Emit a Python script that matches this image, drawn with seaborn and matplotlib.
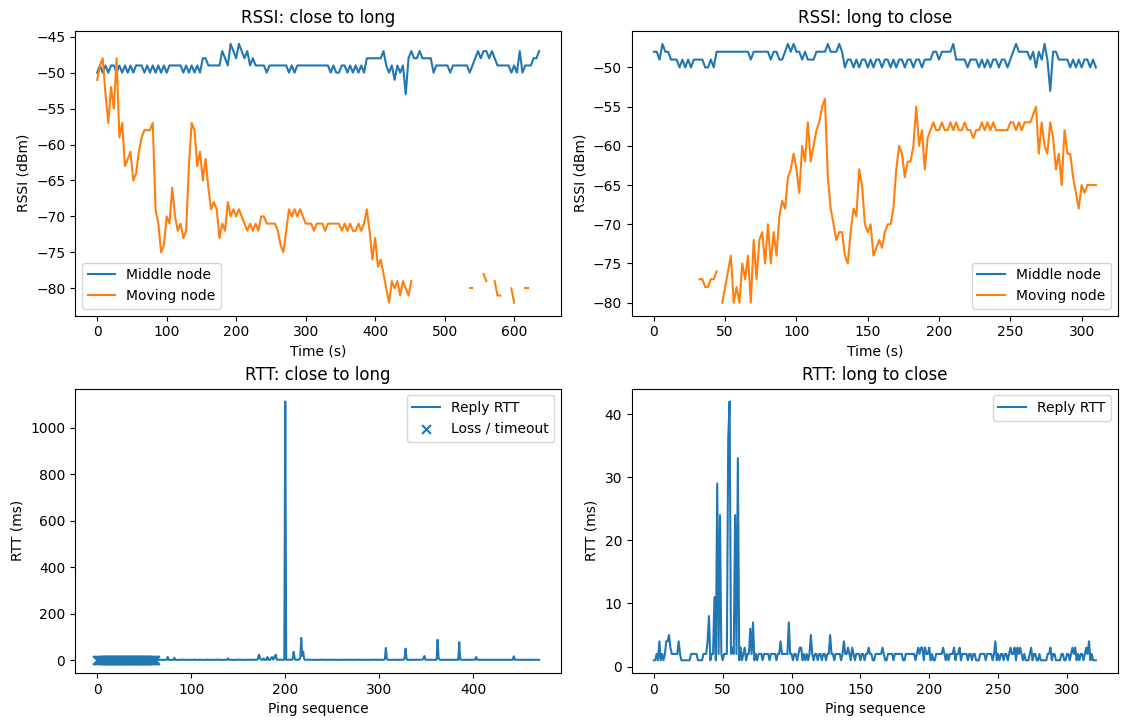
import numpy as np
import pandas as pd
import matplotlib
matplotlib.use("Agg")
import matplotlib.pyplot as plt
import seaborn as sns

nan = np.nan

# ---------------- RSSI: close to long (sampled every 4 s) ----------------
tl_time = np.arange(0, 640, 4)
tl_middle = [
    -50, -49, -50, -49, -50, -49, -49, -50, -49, -50,
    -49, -50, -49, -50, -49, -49, -49, -50, -49, -50,
    -49, -50, -49, -50, -49, -50, -49, -49, -49, -49,
    -49, -50, -49, -50, -49, -50, -49, -50, -48, -48,
    -49, -49, -49, -49, -49, -47, -48, -49, -46, -47,
    -48, -46, -47, -48, -47, -49, -48, -49, -49, -49,
    -49, -50, -49, -49, -49, -49, -49, -49, -49, -50,
    -49, -50, -49, -49, -49, -49, -49, -49, -49, -49,
    -49, -49, -49, -49, -50, -49, -50, -50, -49, -49,
    -50, -49, -50, -49, -50, -49, -50, -48, -48, -48,
    -48, -48, -48, -47, -49, -50, -49, -51, -49, -50,
    -49, -53, -48, -47, -48, -48, -47, -48, -48, -48,
    -48, -50, -49, -49, -49, -49, -49, -50, -49, -49,
    -49, -49, -49, -49, -50, -49, -48, -47, -48, -47,
    -47, -48, -47, -48, -49, -49, -49, -49, -49, -50,
    -49, -50, -47, -50, -49, -49, -49, -48, -48, -47,
]
tl_moving = [
    -51, -49, -48, -53, -57, -52, -55, -48, -59, -57,
    -63, -62, -61, -65, -64, -61, -59, -58, -58, -58,
    -57, -69, -71, -75, -74, -70, -71, -66, -70, -72,
    -71, -73, -72, -63, -57, -58, -63, -61, -65, -62,
    -66, -69, -68, -69, -73, -71, -72, -68, -70, -69,
    -70, -69, -70, -71, -72, -71, -72, -71, -72, -70,
    -70, -71, -71, -71, -71, -72, -74, -75, -72, -69,
    -70, -69, -70, -69, -70, -71, -71, -71, -72, -71,
    -71, -71, -72, -71, -71, -71, -71, -71, -72, -71,
    -72, -71, -72, -72, -71, -72, -71, -69, -72, -76,
    -73, -77, -76, -78, -80, -82, -79, -80, -79, -81,
    -79, -80, -81, -79, nan, nan, nan, nan, nan, nan,
    nan, nan, nan, nan, nan, nan, nan, nan, nan, nan,
    nan, nan, nan, nan, -80, -80, nan, nan, nan, -78,
    -79, nan, nan, -79, -81, -81, nan, nan, nan, -80,
    -82, nan, nan, nan, -80, -80, nan, nan, nan, nan,
]

# ---------------- RSSI: long to close (sampled every 2 s) ----------------
tr_time = np.arange(0, 312, 2)
tr_middle = [
    -48, -48, -49, -47, -48, -48, -49, -49, -49, -50,
    -49, -50, -49, -50, -49, -49, -49, -49, -50, -50,
    -49, -50, -48, -48, -48, -48, -48, -48, -48, -48,
    -48, -48, -48, -48, -49, -48, -48, -48, -48, -48,
    -48, -49, -48, -48, -49, -49, -48, -47, -48, -47,
    -48, -48, -49, -48, -49, -49, -49, -48, -48, -48,
    -48, -47, -48, -48, -48, -47, -48, -50, -49, -49,
    -50, -49, -50, -49, -49, -50, -49, -50, -49, -49,
    -50, -49, -49, -50, -49, -50, -49, -49, -50, -49,
    -49, -50, -49, -49, -50, -49, -49, -49, -48, -48,
    -49, -48, -48, -48, -48, -47, -49, -49, -49, -49,
    -50, -49, -49, -49, -50, -49, -50, -49, -50, -49,
    -49, -50, -49, -49, -50, -49, -48, -47, -48, -48,
    -48, -48, -49, -48, -50, -48, -49, -47, -49, -53,
    -48, -48, -49, -49, -49, -49, -50, -49, -50, -49,
    -50, -49, -49, -50, -49, -50,
]
tr_moving = [
    nan, nan, nan, nan, nan, nan, nan, nan, nan, nan,
    nan, nan, nan, nan, nan, nan, -77, -77, -78, -78,
    -77, -77, -76, nan, -80, -78, -76, -74, -80, -78,
    -80, -75, -77, -74, -80, -72, -77, -72, -71, -75,
    -70, -75, -71, -74, -69, -67, -68, -64, -63, -61,
    -63, -66, -60, -62, -57, -62, -60, -58, -57, -55,
    -54, -64, -68, -70, -72, -71, -71, -74, -75, -71,
    -68, -69, -63, -65, -70, -71, -70, -74, -73, -72,
    -73, -71, -70, -70, -68, -63, -60, -61, -64, -62,
    -62, -60, -55, -60, -58, -63, -59, -58, -57, -58,
    -58, -57, -58, -58, -57, -58, -57, -58, -58, -57,
    -58, -58, -59, -58, -58, -57, -58, -57, -58, -57,
    -58, -58, -58, -58, -58, -57, -57, -58, -57, -58,
    -57, -57, -57, -56, -55, -61, -57, -60, -61, -57,
    -59, -63, -61, -65, -58, -61, -61, -64, -66, -68,
    -65, -66, -65, -65, -65, -65,
]

# ---------------- RTT: close to long ----------------
bl_loss_seq = np.arange(0, 62)
bl_loss_rtt = np.zeros(len(bl_loss_seq))
bl_seq = np.arange(62, 471)
bl_rtt = [
    2, 2, 1, 2, 2, 3, 2, 2, 1, 2, 2, 2, 2, 14, 2, 2, 1, 2, 2, 2,
    10, 2, 2, 1, 2, 2, 2, 2, 3, 2, 2, 1, 2, 2, 2, 2, 2, 1, 2, 2,
    2, 2, 3, 2, 2, 1, 2, 2, 2, 2, 2, 2, 1, 2, 2, 3, 2, 2, 2, 2,
    2, 1, 2, 2, 2, 2, 2, 3, 2, 2, 2, 1, 2, 2, 2, 2, 2, 8, 3, 2,
    2, 2, 2, 1, 2, 2, 2, 2, 2, 2, 3, 2, 2, 1, 2, 2, 2, 2, 2, 2,
    2, 2, 3, 2, 2, 2, 2, 2, 2, 6, 24, 12, 3, 2, 2, 8, 3, 2, 2, 14,
    3, 2, 2, 10, 14, 3, 6, 18, 24, 3, 2, 2, 2, 3, 2, 2, 2, 2, 1114, 2,
    2, 2, 3, 2, 2, 2, 8, 36, 6, 2, 2, 3, 2, 3, 12, 96, 20, 38, 8, 2,
    2, 2, 2, 3, 2, 2, 2, 2, 2, 2, 1, 2, 2, 2, 2, 2, 3, 2, 2, 2,
    2, 2, 2, 2, 2, 2, 2, 3, 2, 2, 2, 2, 2, 1, 2, 2, 2, 2, 2, 2,
    2, 2, 2, 3, 2, 2, 2, 2, 2, 2, 2, 2, 2, 2, 2, 2, 3, 2, 2, 2,
    2, 2, 2, 2, 2, 2, 2, 2, 2, 2, 2, 2, 2, 2, 3, 2, 2, 2, 2, 2,
    2, 2, 2, 2, 8, 53, 6, 2, 2, 2, 2, 2, 2, 2, 2, 2, 2, 2, 2, 2,
    2, 2, 2, 2, 3, 12, 50, 4, 2, 2, 2, 2, 2, 2, 2, 2, 2, 2, 2, 2,
    2, 2, 2, 2, 3, 8, 18, 3, 2, 2, 2, 2, 2, 2, 2, 2, 2, 2, 2, 3,
    88, 10, 3, 2, 2, 2, 2, 2, 2, 2, 2, 2, 2, 2, 2, 2, 2, 2, 2, 2,
    2, 2, 3, 78, 4, 2, 2, 2, 2, 2, 2, 2, 2, 2, 2, 2, 2, 2, 2, 2,
    3, 14, 3, 2, 2, 2, 2, 2, 2, 2, 2, 2, 2, 2, 2, 2, 2, 2, 2, 2,
    2, 2, 2, 2, 2, 2, 2, 2, 2, 2, 2, 2, 2, 2, 2, 2, 2, 2, 2, 2,
    3, 17, 3, 2, 2, 2, 2, 2, 2, 2, 2, 2, 2, 2, 2, 2, 2, 2, 2, 2,
    2, 2, 2, 2, 2, 2, 2, 2, 2,
]

# ---------------- RTT: long to close ----------------
br_seq = np.arange(0, 322)
br_rtt = [
    1, 1, 2, 1, 4, 1, 2, 1, 2, 4, 4, 5, 3, 2, 2, 2, 2, 2, 4, 2,
    1, 1, 1, 1, 1, 1, 1, 2, 2, 2, 2, 2, 1, 1, 1, 1, 2, 2, 2, 4,
    8, 1, 2, 2, 11, 1, 29, 2, 24, 2, 1, 2, 2, 2, 36, 42, 2, 3, 2, 24,
    2, 33, 1, 3, 1, 2, 3, 1, 2, 2, 6, 2, 7, 1, 2, 1, 2, 2, 2, 1,
    2, 2, 2, 2, 1, 2, 2, 2, 2, 1, 2, 2, 4, 2, 2, 2, 2, 2, 7, 2,
    2, 1, 2, 2, 1, 2, 3, 3, 1, 2, 1, 2, 1, 2, 5, 2, 1, 2, 2, 1,
    2, 2, 1, 2, 2, 1, 2, 2, 5, 2, 2, 1, 2, 2, 2, 2, 1, 2, 4, 2,
    2, 3, 2, 1, 3, 2, 1, 2, 2, 2, 1, 2, 2, 1, 2, 2, 3, 2, 2, 1,
    1, 2, 2, 2, 2, 2, 3, 2, 1, 1, 2, 2, 2, 2, 1, 2, 2, 2, 2, 2,
    2, 1, 1, 2, 2, 2, 2, 2, 2, 2, 1, 2, 3, 2, 3, 3, 1, 3, 2, 2,
    3, 1, 2, 1, 1, 2, 2, 2, 2, 2, 3, 2, 1, 2, 1, 2, 2, 2, 3, 1,
    2, 2, 3, 1, 2, 2, 2, 2, 1, 2, 2, 1, 2, 2, 1, 1, 1, 2, 2, 2,
    2, 1, 2, 2, 2, 2, 1, 2, 4, 1, 2, 1, 2, 2, 1, 2, 2, 1, 2, 3,
    2, 2, 3, 1, 3, 2, 3, 2, 1, 2, 1, 1, 1, 2, 3, 1, 2, 2, 1, 1,
    2, 1, 1, 1, 1, 1, 2, 2, 3, 1, 2, 2, 1, 1, 1, 1, 2, 2, 1, 1,
    2, 2, 1, 2, 3, 2, 3, 1, 2, 1, 2, 2, 1, 2, 3, 2, 4, 1, 2, 1,
    1, 1,
]

BLUE = "#1f77b4"
ORANGE = "#ff7f0e"


def draw_gapped(ax, x, y, color, label):
    """Draw a series with NaN gaps as separate seaborn line segments."""
    df = pd.DataFrame({"x": x, "y": np.asarray(y, dtype=float)})
    df["seg"] = df["y"].isna().cumsum()
    df = df.dropna()
    first = True
    for _, g in df.groupby("seg"):
        sns.lineplot(data=g, x="x", y="y", ax=ax, color=color,
                     estimator=None, errorbar=None, sort=False,
                     linewidth=1.5, label=label if first else None,
                     legend=False)
        first = False


fig, axes = plt.subplots(2, 2, figsize=(11.27, 7.2), dpi=100)
fig.subplots_adjust(left=0.0666, right=0.992, top=0.957, bottom=0.065,
                    wspace=0.145, hspace=0.256)

ax = axes[0, 0]
draw_gapped(ax, tl_time, tl_middle, BLUE, "Middle node")
draw_gapped(ax, tl_time, tl_moving, ORANGE, "Moving node")
ax.set_title("RSSI: close to long")
ax.set_xlabel("Time (s)")
ax.set_ylabel("RSSI (dBm)")
ax.legend(loc="lower left")

ax = axes[0, 1]
draw_gapped(ax, tr_time, tr_middle, BLUE, "Middle node")
draw_gapped(ax, tr_time, tr_moving, ORANGE, "Moving node")
ax.set_title("RSSI: long to close")
ax.set_xlabel("Time (s)")
ax.set_ylabel("RSSI (dBm)")
ax.legend(loc="lower right")

ax = axes[1, 0]
draw_gapped(ax, bl_seq, bl_rtt, BLUE, "Reply RTT")
sns.scatterplot(x=bl_loss_seq, y=bl_loss_rtt, ax=ax, marker="x", color=BLUE,
                s=40, linewidth=1.5, label="Loss / timeout", legend=False)
ax.set_title("RTT: close to long")
ax.set_xlabel("Ping sequence")
ax.set_ylabel("RTT (ms)")
ax.legend(loc="upper right")

ax = axes[1, 1]
draw_gapped(ax, br_seq, br_rtt, BLUE, "Reply RTT")
ax.set_title("RTT: long to close")
ax.set_xlabel("Ping sequence")
ax.set_ylabel("RTT (ms)")
ax.legend(loc="upper right")

fig.savefig("out.png", dpi=100)
